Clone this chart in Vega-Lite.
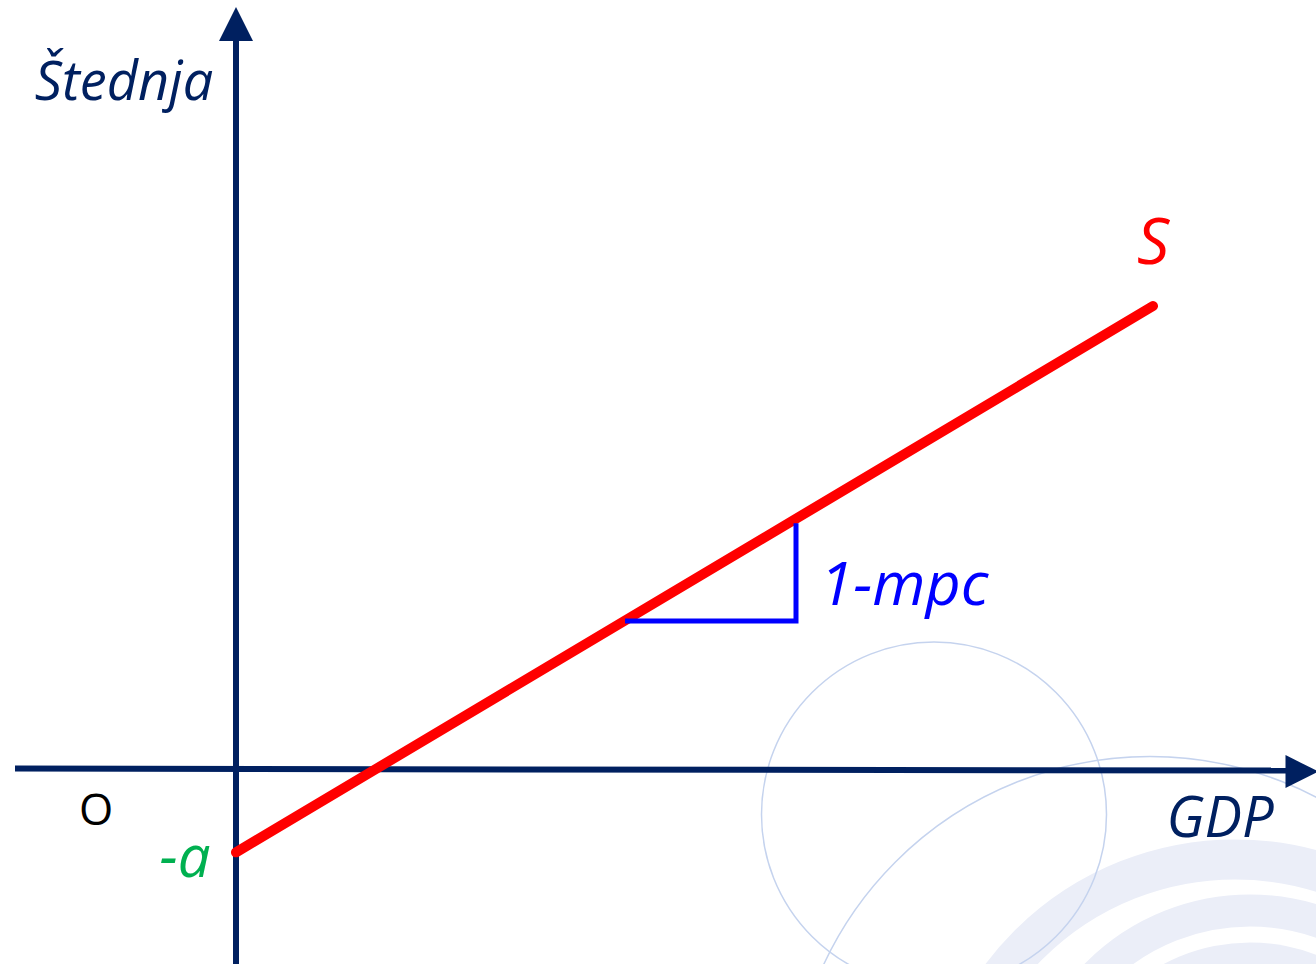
{
  "$schema": "https://vega.github.io/schema/vega-lite/v6.json",
  "width": 1316,
  "height": 967,
  "autosize": {"type": "fit", "contains": "padding"},
  "padding": 0,
  "background": "white",
  "config": {"view": {"stroke": null}},
  "encoding": {
    "x": {"field": "x", "type": "quantitative", "scale": {"domain": [-236, 1080], "nice": false, "zero": false}, "axis": null},
    "y": {"field": "y", "type": "quantitative", "scale": {"domain": [-196, 771], "nice": false, "zero": false}, "axis": null}
  },
  "layer": [
    {
      "data": {"values": [{"x": 999, "y": -384}]},
      "mark": {"type": "point", "shape": "circle", "filled": false, "stroke": "#EBEEF8", "strokeWidth": 40, "size": 341056, "opacity": 1, "clip": true}
    },
    {
      "data": {"values": [{"x": 1014, "y": -359}]},
      "mark": {"type": "point", "shape": "circle", "filled": false, "stroke": "#EBEEF8", "strokeWidth": 32, "size": 186624, "opacity": 1, "clip": true}
    },
    {
      "data": {"values": [{"x": 1014, "y": -359}]},
      "mark": {"type": "point", "shape": "circle", "filled": true, "fill": "#EBEEF8", "strokeWidth": 0, "size": 135424, "opacity": 1, "clip": true}
    },
    {
      "data": {"values": [{"x": 698, "y": -46}]},
      "mark": {"type": "point", "shape": "circle", "filled": false, "stroke": "#C5D3EE", "strokeWidth": 1.5, "size": 119025, "opacity": 1, "clip": true}
    },
    {
      "data": {"values": [{"x": 914, "y": -349}]},
      "mark": {"type": "point", "shape": "circle", "filled": false, "stroke": "#C5D3EE", "strokeWidth": 1.5, "size": 518400, "opacity": 1, "clip": true}
    },
    {
      "data": {"values": [{"x": 0, "y": -196, "x2": 0, "y2": 733}, {"x": -221, "y": 0, "x2": 1052, "y2": -2}]},
      "mark": {"type": "rule", "color": "#002060", "strokeWidth": 6},
      "encoding": {
        "x2": {"field": "x2"},
        "y2": {"field": "y2"}
      }
    },
    {
      "data": {"values": [{"x": 0, "y": 747}]},
      "mark": {"type": "point", "shape": "M -1 1 L 0 -1 L 1 1 Z", "filled": true, "fill": "#002060", "strokeWidth": 0, "size": 1156, "opacity": 1, "clip": true}
    },
    {
      "data": {"values": [{"x": 1066, "y": -3}]},
      "mark": {"type": "point", "shape": "M -1 -1 L 1 0 L -1 1 Z", "filled": true, "fill": "#002060", "strokeWidth": 0, "size": 1089, "opacity": 1, "clip": true}
    },
    {
      "data": {"values": [{"x": 0, "y": -84}, {"x": 917, "y": 464}]},
      "mark": {"type": "line", "color": "#FF0000", "strokeWidth": 10, "strokeCap": "round"},
      "encoding": {}
    },
    {
      "data": {"values": [{"i": 1, "x": 389, "y": 148}, {"i": 2, "x": 560, "y": 148}, {"i": 3, "x": 560, "y": 246}]},
      "mark": {"type": "line", "color": "#0000FF", "strokeWidth": 5, "strokeJoin": "miter"},
      "encoding": {"order": {"field": "i", "type": "quantitative"}}
    },
    {
      "data": {"values": [{"x": -112, "y": 671, "label": "Štednja"}]},
      "mark": {"type": "text", "font": "Open Sans", "fontStyle": "italic", "fontSize": 54, "color": "#002060", "align": "center", "baseline": "alphabetic"},
      "encoding": {"text": {"field": "label"}}
    },
    {
      "data": {"values": [{"x": -140, "y": -57, "label": "O"}]},
      "mark": {"type": "text", "font": "Open Sans", "fontSize": 44, "color": "#000000", "align": "center", "baseline": "alphabetic"},
      "encoding": {"text": {"field": "label"}}
    },
    {
      "data": {"values": [{"x": -51, "y": -109, "label": "-a"}]},
      "mark": {"type": "text", "font": "Open Sans", "fontStyle": "italic", "fontSize": 58, "color": "#00B050", "align": "center", "baseline": "alphabetic"},
      "encoding": {"text": {"field": "label"}}
    },
    {
      "data": {"values": [{"x": 668, "y": 164, "label": "1-mpc"}]},
      "mark": {"type": "text", "font": "Open Sans", "fontStyle": "italic", "fontSize": 61, "color": "#0000FF", "align": "center", "baseline": "alphabetic"},
      "encoding": {"text": {"field": "label"}}
    },
    {
      "data": {"values": [{"x": 917, "y": 506, "label": "S"}]},
      "mark": {"type": "text", "font": "Open Sans", "fontStyle": "italic", "fontSize": 64, "color": "#FF0000", "align": "center", "baseline": "alphabetic"},
      "encoding": {"text": {"field": "label"}}
    },
    {
      "data": {"values": [{"x": 984, "y": -69, "label": "GDP"}]},
      "mark": {"type": "text", "font": "Open Sans", "fontStyle": "italic", "fontSize": 56, "color": "#002060", "align": "center", "baseline": "alphabetic"},
      "encoding": {"text": {"field": "label"}}
    }
  ]
}
